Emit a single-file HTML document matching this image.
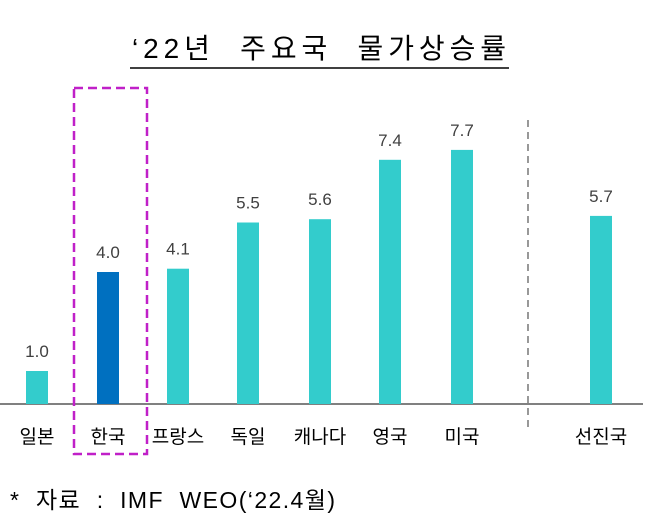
<!DOCTYPE html>
<html><head><meta charset="utf-8">
<style>
body{margin:0;width:649px;height:525px;background:#fff;overflow:hidden;font-family:"Liberation Sans","Noto Sans CJK KR",sans-serif;}
svg text{font-family:"Liberation Sans","Noto Sans CJK KR",sans-serif;}
</style></head>
<body>
<svg id="chart" width="649" height="525">
<text x="132" y="58" font-size="28" fill="#000" textLength="374" lengthAdjust="spacing" xml:space="preserve">‘22년  주요국  물가상승률</text>
<line x1="130" y1="68" x2="509" y2="68" stroke="#000" stroke-width="1.5"/>
<line x1="0" y1="404" x2="643" y2="404" stroke="#808080" stroke-width="2"/>
<line x1="528" y1="120" x2="528" y2="430" stroke="#555" stroke-width="1.2" stroke-dasharray="7,5"/>
<rect x="74" y="88" width="73" height="366" fill="none" stroke="#c020c8" stroke-width="2.5" stroke-dasharray="9,5"/>
<g id="bars"></g>
<text x="10" y="508" font-size="23" fill="#000" textLength="325" lengthAdjust="spacing" xml:space="preserve">*  자료  :  IMF  WEO(‘22.4월)</text>
</svg>
<script>
const categories=["일본","한국","프랑스","독일","캐나다","영국","미국","선진국"];
const values=[1.0,4.0,4.1,5.5,5.6,7.4,7.7,5.7];
const labels=["1.0","4.0","4.1","5.5","5.6","7.4","7.7","5.7"];
const centers=[37,108,178,248,320,390,462,601];
const base=404, scale=33, bw=22;
function yOf(v){return base-v*scale;}
const g=document.getElementById('bars');
const ns="http://www.w3.org/2000/svg";
categories.forEach((c,i)=>{
  const r=document.createElementNS(ns,'rect');
  r.setAttribute('x',centers[i]-bw/2);
  r.setAttribute('y',yOf(values[i]));
  r.setAttribute('width',bw);
  r.setAttribute('height',base-yOf(values[i]));
  r.setAttribute('fill',i===1?'#0070c0':'#33cccc');
  
  
  g.appendChild(r);
  const t=document.createElementNS(ns,'text');
  t.setAttribute('x',centers[i]);
  t.setAttribute('y',yOf(values[i])-14);
  t.setAttribute('text-anchor','middle');
  t.setAttribute('font-size','17');
  t.setAttribute('fill','#404040');
  t.textContent=labels[i];
  
  
  g.appendChild(t);
  const l=document.createElementNS(ns,'text');
  l.setAttribute('x',centers[i]);
  l.setAttribute('y',443);
  l.setAttribute('text-anchor','middle');
  l.setAttribute('font-size','19');
  l.setAttribute('fill','#000');
  l.textContent=c;
  
  
  g.appendChild(l);
});
</script>
</body></html>
